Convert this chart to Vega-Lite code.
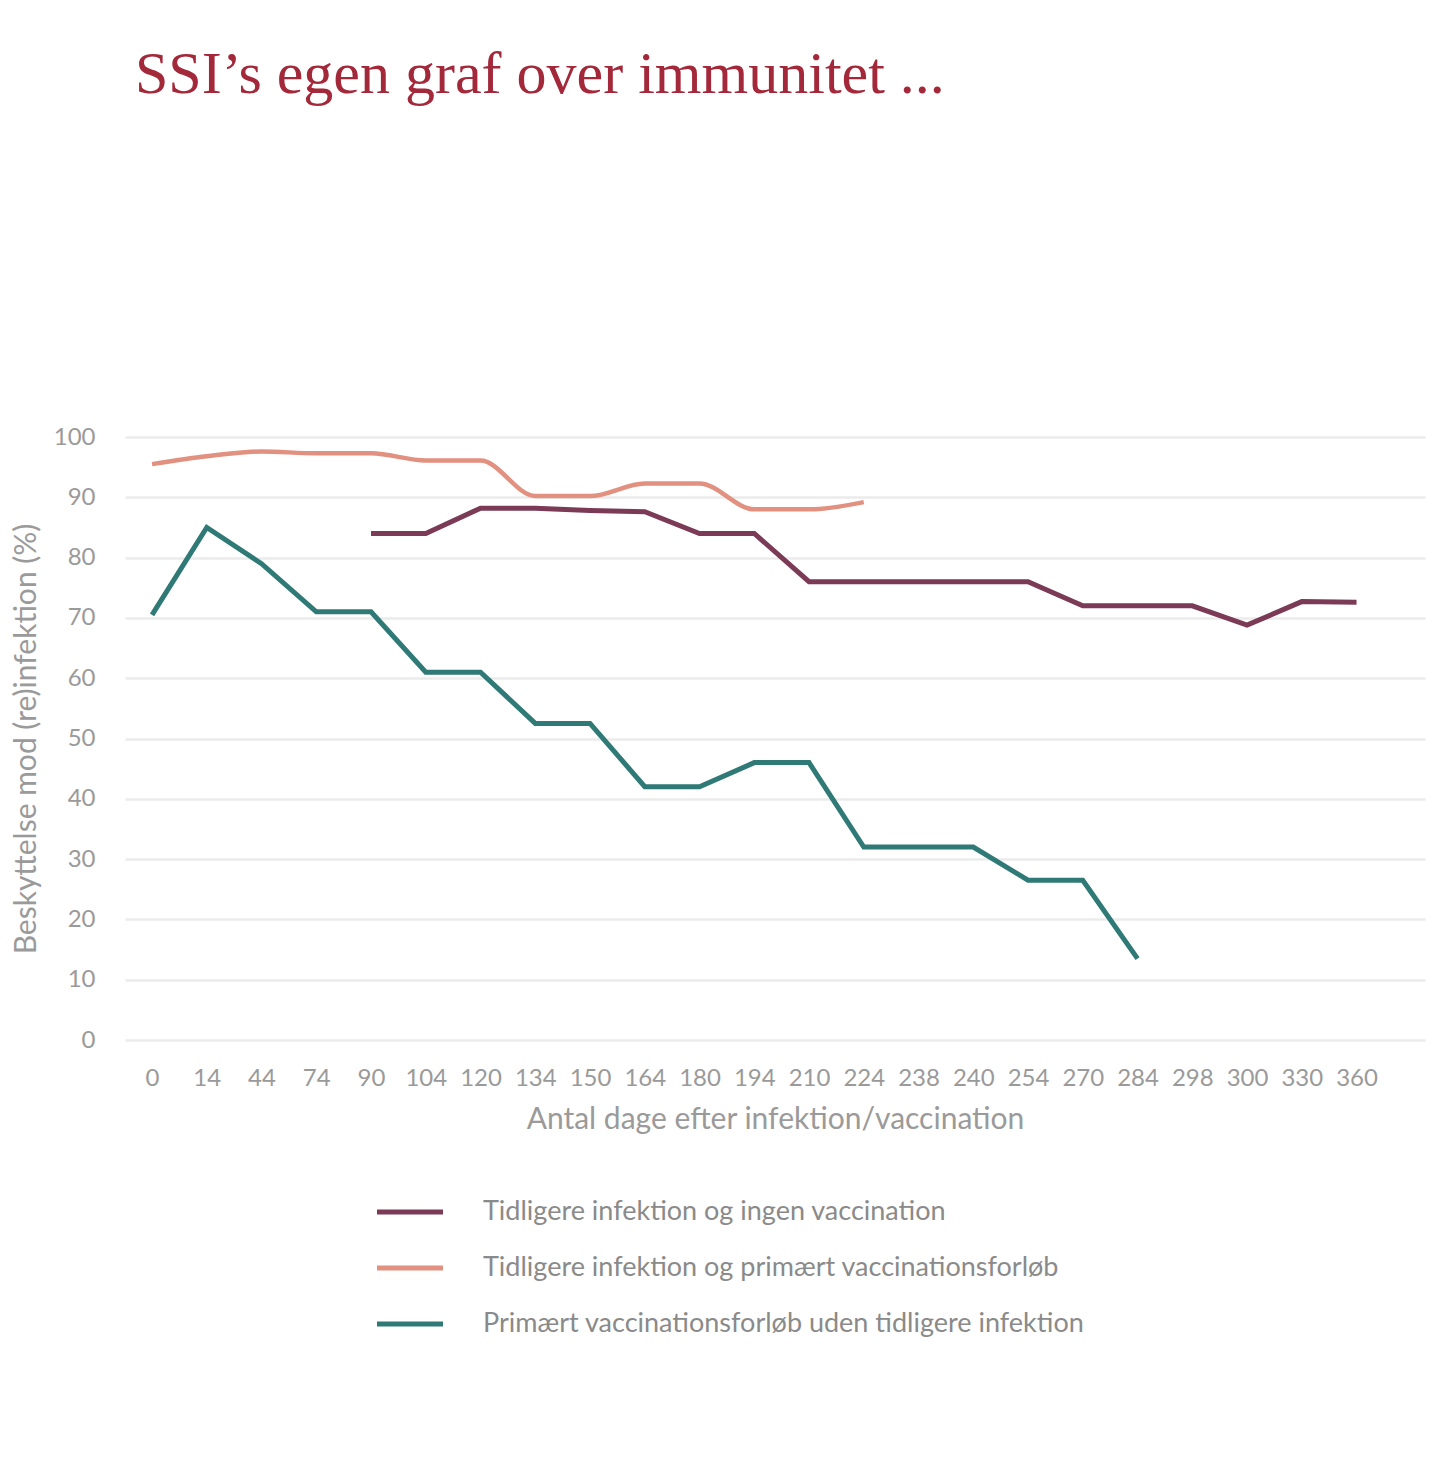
{
  "$schema": "https://vega.github.io/schema/vega-lite/v6.json",
  "width": 1300,
  "height": 603,
  "autosize": {"type": "none"},
  "padding": {"left": 125, "top": 437, "right": 15, "bottom": 423},
  "background": "#ffffff",
  "title": {
    "text": "SSI’s egen graf over immunitet ...",
    "anchor": "start",
    "frame": "group",
    "dx": 10,
    "offset": 272,
    "baseline": "alphabetic",
    "font": "Liberation Serif",
    "fontSize": 60,
    "fontWeight": "normal",
    "color": "#a3283a"
  },
  "config": {
    "view": {"stroke": null},
    "font": "Lato"
  },
  "data": {
    "values": [
      {"serie": "Tidligere infektion og ingen vaccination", "dag": 90, "pct": 84},
      {"serie": "Tidligere infektion og ingen vaccination", "dag": 104, "pct": 84},
      {"serie": "Tidligere infektion og ingen vaccination", "dag": 120, "pct": 88.2},
      {"serie": "Tidligere infektion og ingen vaccination", "dag": 134, "pct": 88.2},
      {"serie": "Tidligere infektion og ingen vaccination", "dag": 150, "pct": 87.8},
      {"serie": "Tidligere infektion og ingen vaccination", "dag": 164, "pct": 87.6},
      {"serie": "Tidligere infektion og ingen vaccination", "dag": 180, "pct": 84},
      {"serie": "Tidligere infektion og ingen vaccination", "dag": 194, "pct": 84},
      {"serie": "Tidligere infektion og ingen vaccination", "dag": 210, "pct": 76},
      {"serie": "Tidligere infektion og ingen vaccination", "dag": 224, "pct": 76},
      {"serie": "Tidligere infektion og ingen vaccination", "dag": 238, "pct": 76},
      {"serie": "Tidligere infektion og ingen vaccination", "dag": 240, "pct": 76},
      {"serie": "Tidligere infektion og ingen vaccination", "dag": 254, "pct": 76},
      {"serie": "Tidligere infektion og ingen vaccination", "dag": 270, "pct": 72},
      {"serie": "Tidligere infektion og ingen vaccination", "dag": 284, "pct": 72},
      {"serie": "Tidligere infektion og ingen vaccination", "dag": 298, "pct": 72},
      {"serie": "Tidligere infektion og ingen vaccination", "dag": 300, "pct": 68.8},
      {"serie": "Tidligere infektion og ingen vaccination", "dag": 330, "pct": 72.7},
      {"serie": "Tidligere infektion og ingen vaccination", "dag": 360, "pct": 72.6},

      {"serie": "Tidligere infektion og primært vaccinationsforløb", "dag": 0, "pct": 95.5},
      {"serie": "Tidligere infektion og primært vaccinationsforløb", "dag": 14, "pct": 96.8},
      {"serie": "Tidligere infektion og primært vaccinationsforløb", "dag": 44, "pct": 97.6},
      {"serie": "Tidligere infektion og primært vaccinationsforløb", "dag": 74, "pct": 97.3},
      {"serie": "Tidligere infektion og primært vaccinationsforløb", "dag": 90, "pct": 97.3},
      {"serie": "Tidligere infektion og primært vaccinationsforløb", "dag": 104, "pct": 96.1},
      {"serie": "Tidligere infektion og primært vaccinationsforløb", "dag": 120, "pct": 96.1},
      {"serie": "Tidligere infektion og primært vaccinationsforløb", "dag": 134, "pct": 90.2},
      {"serie": "Tidligere infektion og primært vaccinationsforløb", "dag": 150, "pct": 90.2},
      {"serie": "Tidligere infektion og primært vaccinationsforløb", "dag": 164, "pct": 92.3},
      {"serie": "Tidligere infektion og primært vaccinationsforløb", "dag": 180, "pct": 92.3},
      {"serie": "Tidligere infektion og primært vaccinationsforløb", "dag": 194, "pct": 88},
      {"serie": "Tidligere infektion og primært vaccinationsforløb", "dag": 210, "pct": 88},
      {"serie": "Tidligere infektion og primært vaccinationsforløb", "dag": 224, "pct": 89.2},

      {"serie": "Primært vaccinationsforløb uden tidligere infektion", "dag": 0, "pct": 70.5},
      {"serie": "Primært vaccinationsforløb uden tidligere infektion", "dag": 14, "pct": 85},
      {"serie": "Primært vaccinationsforløb uden tidligere infektion", "dag": 44, "pct": 79},
      {"serie": "Primært vaccinationsforløb uden tidligere infektion", "dag": 74, "pct": 71},
      {"serie": "Primært vaccinationsforløb uden tidligere infektion", "dag": 90, "pct": 71},
      {"serie": "Primært vaccinationsforløb uden tidligere infektion", "dag": 104, "pct": 61},
      {"serie": "Primært vaccinationsforløb uden tidligere infektion", "dag": 120, "pct": 61},
      {"serie": "Primært vaccinationsforløb uden tidligere infektion", "dag": 134, "pct": 52.5},
      {"serie": "Primært vaccinationsforløb uden tidligere infektion", "dag": 150, "pct": 52.5},
      {"serie": "Primært vaccinationsforløb uden tidligere infektion", "dag": 164, "pct": 42},
      {"serie": "Primært vaccinationsforløb uden tidligere infektion", "dag": 180, "pct": 42},
      {"serie": "Primært vaccinationsforløb uden tidligere infektion", "dag": 194, "pct": 46},
      {"serie": "Primært vaccinationsforløb uden tidligere infektion", "dag": 210, "pct": 46},
      {"serie": "Primært vaccinationsforløb uden tidligere infektion", "dag": 224, "pct": 32},
      {"serie": "Primært vaccinationsforløb uden tidligere infektion", "dag": 238, "pct": 32},
      {"serie": "Primært vaccinationsforløb uden tidligere infektion", "dag": 240, "pct": 32},
      {"serie": "Primært vaccinationsforløb uden tidligere infektion", "dag": 254, "pct": 26.5},
      {"serie": "Primært vaccinationsforløb uden tidligere infektion", "dag": 270, "pct": 26.5},
      {"serie": "Primært vaccinationsforløb uden tidligere infektion", "dag": 284, "pct": 13.5}
    ]
  },
  "encoding": {
    "x": {
      "field": "dag",
      "type": "ordinal",
      "scale": {"padding": 0.872, "align": 0.283},
      "axis": {
        "title": "Antal dage efter infektion/vaccination",
        "labelAngle": 0,
        "labelPadding": 26,
        "labelFontSize": 24,
        "labelColor": "#9a9a9a",
        "ticks": false,
        "domain": false,
        "grid": false,
        "titleFontSize": 30,
        "titleFontWeight": "normal",
        "titleColor": "#9a9a9a",
        "titlePadding": 14
      }
    },
    "y": {
      "field": "pct",
      "type": "quantitative",
      "scale": {"domain": [0, 100], "nice": false},
      "axis": {
        "title": "Beskyttelse mod (re)infektion (%)",
        "values": [0, 10, 20, 30, 40, 50, 60, 70, 80, 90, 100],
        "labelPadding": 30,
        "labelFontSize": 24,
        "labelColor": "#9a9a9a",
        "ticks": false,
        "domain": false,
        "gridColor": "#ebebeb",
        "gridWidth": 2.5,
        "titleFontSize": 30,
        "titleFontWeight": "normal",
        "titleColor": "#9a9a9a",
        "titlePadding": 12
      }
    },
    "color": {
      "field": "serie",
      "type": "nominal",
      "scale": {
        "domain": [
          "Tidligere infektion og ingen vaccination",
          "Tidligere infektion og primært vaccinationsforløb",
          "Primært vaccinationsforløb uden tidligere infektion"
        ],
        "range": ["#7b3a56", "#e2907f", "#2f7a76"]
      },
      "legend": {
        "title": null,
        "orient": "none",
        "legendX": 255,
        "legendY": 745,
        "padding": 0,
        "symbolType": "M-1.2,0H1.2",
        "symbolSize": 3025,
        "symbolStrokeWidth": 5,
        "labelOffset": 43,
        "labelFontSize": 27,
        "labelColor": "#8a8a8a",
        "labelLimit": 800,
        "rowPadding": 13
      }
    }
  },
  "layer": [
    {
      "transform": [{"filter": "datum.serie !== 'Tidligere infektion og primært vaccinationsforløb'"}],
      "mark": {"type": "line", "strokeWidth": 5, "strokeJoin": "miter"}
    },
    {
      "transform": [{"filter": "datum.serie === 'Tidligere infektion og primært vaccinationsforløb'"}],
      "mark": {"type": "line", "strokeWidth": 4.5, "interpolate": "monotone"}
    }
  ]
}
